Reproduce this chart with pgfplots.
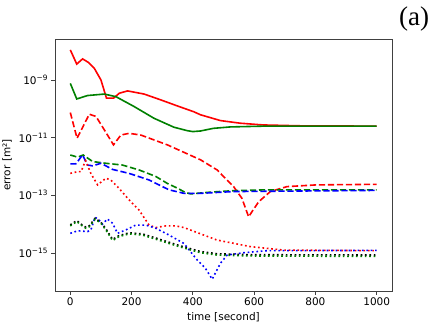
\documentclass[border=0pt]{standalone}
\usepackage{pgfplots}
\pgfplotsset{compat=1.18}
\usepackage{fontspec}
\setmainfont{DejaVu Sans}
\newfontfamily\serif{Liberation Serif}
\definecolor{mred}{RGB}{255,0,0}
\definecolor{mgreen}{RGB}{0,128,0}
\definecolor{mblue}{RGB}{0,0,255}
\begin{document}
\begin{tikzpicture}
\path[use as bounding box] (0,0) rectangle (436pt,327pt);
\node[font=\serif\fontsize{27}{29}\selectfont] at (414pt,308pt) {(a)};
\begin{axis}[
  at={(55pt,36pt)}, anchor=south west,
  scale only axis, width=337pt, height=252pt,
  ymode=log,
  xmin=-50, xmax=1050,
  ymin=4.8e-17, ymax=2.63e-8,
  xtick={0,200,400,600,800,1000},
  ytick={1e-15,1e-13,1e-11,1e-9},
  yticklabels={10\textsuperscript{−15},10\textsuperscript{−13},10\textsuperscript{−11},10\textsuperscript{−9}},
  minor ytick={},
  /pgf/number format/assume math mode=true,
  /pgf/number format/1000 sep={},
  tick label style={font=\fontsize{10.5}{12}\selectfont},
  label style={font=\fontsize{10.5}{12}\selectfont},
  xlabel={time [second]},
  ylabel={error [m²]},
  tick align=outside, xtick pos=bottom, ytick pos=left,
  major tick length=3.5pt,
  axis line style={black!75, line width=0.8pt},
  every tick/.style={black!75, line width=0.8pt},
  every axis plot/.append style={line width=1.6pt, line cap=butt},
  dsh/.style={dash pattern=on 6.2pt off 2.8pt},
  dtt/.style={dash pattern=on 1.7pt off 2.7pt},
]
% solid
\addplot[mred] coordinates {
 (0,1.10e-8) (21,3.55e-9) (40,5.37e-9) (60,4.0e-9) (78,2.57e-9) (100,1.0e-9)
 (118,2.34e-10) (141,2.34e-10) (160,3.47e-10) (187,4.17e-10) (241,3.24e-10)
 (295,2.04e-10) (349,1.26e-10) (403,7.9e-11) (425,6.2e-11) (490,3.9e-11)
 (555,3.16e-11) (630,2.75e-11) (750,2.57e-11) (1000,2.5e-11)};
\addplot[mgreen] coordinates {
 (0,7.6e-10) (21,2.19e-10) (56,2.88e-10) (111,3.24e-10) (149,2.63e-10)
 (208,1.2e-10) (273,4.7e-11) (338,2.3e-11) (382,1.74e-11) (400,1.62e-11)
 (425,1.7e-11) (467,2.1e-11) (522,2.35e-11) (630,2.5e-11) (1000,2.5e-11)};
% dashed
\addplot[mred,dsh] coordinates {
 (0,7.4e-11) (22,9.5e-12) (62,6.5e-11) (84,5.4e-11) (111,1.86e-11) (141,5.6e-12)
 (165,1.23e-11) (192,1.41e-11) (230,1.23e-11) (317,5.6e-12) (425,1.7e-12)
 (479,7.6e-13) (533,2.0e-13) (560,7.9e-14) (582,1.8e-14) (600,3.5e-14)
 (615,6.0e-14) (653,1.35e-13) (707,2.0e-13) (804,2.3e-13) (1000,2.4e-13)};
\addplot[mgreen,dsh] coordinates {
 (0,2.5e-12) (24,2.1e-12) (42,2.5e-12) (73,1.48e-12) (116,1.29e-12)
 (170,1.12e-12) (224,7.6e-13) (279,4.5e-13) (317,2.57e-13) (349,1.78e-13)
 (375,1.26e-13) (393,1.12e-13) (458,1.29e-13) (533,1.45e-13) (642,1.55e-13)
 (1000,1.55e-13)};
\addplot[mblue,dsh] coordinates {
 (0,1.23e-12) (18,1.23e-12) (40,2.5e-12) (56,1.12e-12) (73,1.05e-12)
 (100,1.29e-12) (138,7.9e-13) (192,5.75e-13) (257,3.4e-13) (322,1.55e-13)
 (371,1.17e-13) (425,1.17e-13) (533,1.35e-13) (1000,1.48e-13)};
% dotted
\addplot[mred,dtt] coordinates {
 (0,5.75e-13) (24,6.6e-13) (35,6.6e-13) (46,1.29e-12) (50,1.58e-12)
 (67,5.75e-13) (89,2.3e-13) (116,3.9e-13) (132,3.4e-13) (159,1.74e-13)
 (192,6.9e-14) (224,3.1e-14) (257,9.3e-15) (279,7.6e-15) (311,8.7e-15)
 (344,8.7e-15) (371,7.6e-15) (479,2.8e-15) (588,1.66e-15) (696,1.26e-15)
 (1000,1.2e-15)};
\addplot[mblue,dtt] coordinates {
 (0,4.8e-15) (24,5.9e-15) (56,5.5e-15) (67,6.3e-15) (81,1.74e-14) (94,1.38e-14)
 (105,1.0e-14) (121,1.51e-14) (138,1.07e-14) (154,4.8e-15) (181,6.3e-15)
 (214,9.3e-15) (246,9.3e-15) (279,7.2e-15) (322,4.2e-15) (371,2.14e-15)
 (414,5.75e-16) (441,2.95e-16) (463,1.23e-16) (490,4.4e-16) (512,8.5e-16)
 (566,1.02e-15) (642,1.2e-15) (1000,1.23e-15)};
\addplot[black,dtt] coordinates {
 (0,9.4e-15) (21,1.33e-14) (35,1.0e-14) (51,7.8e-15) (62,8.8e-15) (81,1.6e-14)
 (100,1.16e-14) (116,6.9e-15) (138,2.95e-15) (159,4.0e-15) (192,5.0e-15)
 (235,4.6e-15) (279,3.3e-15) (355,1.82e-15) (425,1.12e-15) (479,9.4e-16)
 (588,8.7e-16) (1000,8.5e-16)};
\addplot[mgreen,dtt] coordinates {
 (0,8.7e-15) (21,1.23e-14) (35,9.3e-15) (51,7.2e-15) (62,8.1e-15) (81,1.48e-14)
 (100,1.07e-14) (116,6.3e-15) (138,2.7e-15) (159,3.7e-15) (192,4.6e-15)
 (235,4.2e-15) (279,3.0e-15) (355,1.66e-15) (425,1.02e-15) (479,8.5e-16)
 (588,7.9e-16) (1000,7.6e-16)};
\end{axis}
\end{tikzpicture}
\end{document}
